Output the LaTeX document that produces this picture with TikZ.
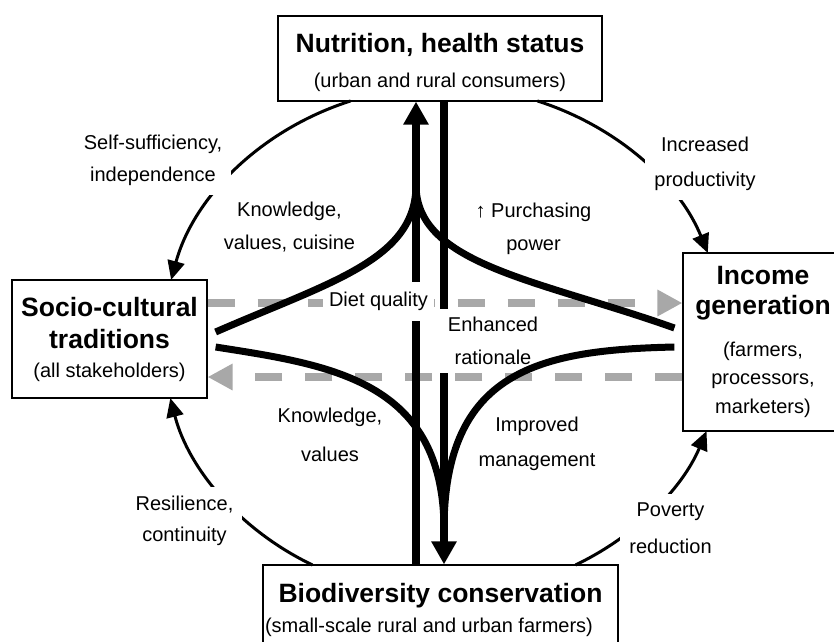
\documentclass[tikz,border=0pt]{standalone}
\usepackage{fontspec}
\setmainfont{Liberation Sans}
\usetikzlibrary{arrows.meta,calc}
\definecolor{dashgray}{RGB}{168,168,168}
\newcommand\titlefont{\fontsize{26.5}{32}\selectfont\bfseries}
\newcommand\boxfont{\fontsize{20}{29}\selectfont}
\newcommand\lblfont{\fontsize{20}{33}\selectfont}
\begin{document}
\begin{tikzpicture}[x=1pt,y=1pt,
  box/.style={draw, line width=1.2pt, fill=white, inner sep=0pt, align=center, font=\boxfont},
  lbl/.style={font=\lblfont, align=center, inner sep=0pt},
  arclbl/.style={lbl, fill=white, inner sep=9pt},
  cyc/.style={line width=3pt, -{Triangle[length=19pt,width=17pt]}},
  flow/.style={line width=8pt, -{Triangle[length=23pt,width=24pt]}},
  feed/.style={line width=7pt},
  gdash/.style={draw=dashgray, line width=8pt, dash pattern=on 27pt off 23pt, -{Triangle[length=25pt,width=25pt]}},
]
\useasboundingbox (0,0) rectangle (834,-641);
\clip (0,0) rectangle (834,-641);

% boxes
\node[box, minimum width=324pt, minimum height=85pt] (T) at (440,-58.5)
  {\rule{0pt}{27pt}{\titlefont Nutrition, health status}\\[6pt](urban and rural consumers)};
\node[box, minimum width=195pt, minimum height=118pt] (L) at (109.5,-339)
  {{\titlefont Socio-cultural}\\[3pt]{\titlefont traditions}\\(all stakeholders)};
\node[box, minimum width=160pt, minimum height=178pt] (R) at (763,-342)
  {{\titlefont Income}\\[1pt]{\titlefont generation}\\[13pt](farmers,\\[-1.5pt]processors,\\marketers)};
\node[box, minimum width=355pt, minimum height=81pt] (B) at (440.5,-605.5)
  {\rule{0pt}{28.3pt}{\titlefont Biodiversity conservation}\\[1pt](small-scale rural and urban farmers)\hspace*{23pt}};

% outer cycle
\coordinate (E) at (444,-340.5);
\draw[cyc] ($(E)+(109.4:281pt and 254pt)$) arc[start angle=109.4, end angle=166.2, x radius=281pt, y radius=254pt];
\draw[cyc] ($(E)+(70.6:281pt and 254pt)$) arc[start angle=70.6, end angle=20.15, x radius=281pt, y radius=254pt];
\draw[cyc] ($(E)+(242.1:281pt and 254pt)$) arc[start angle=242.1, end angle=193.1, x radius=281pt, y radius=254pt];
\draw[cyc] ($(E)+(-62.1:281pt and 254pt)$) arc[start angle=-62.1, end angle=-20.9, x radius=281pt, y radius=254pt];

\node[arclbl] (l1) at (153,-160.8) {Self-sufficiency,\\[-1pt]independence};
\node[arclbl] (l2) at (705,-164.3) {Increased\\[2pt]productivity};
\node[arclbl] (l3) at (184.5,-521.3) {Resilience,\\[-2pt]continuity};
\node[arclbl] (l4) at (670.5,-528.2) {Poverty\\[4pt]reduction};

% grey dashed arrows
\draw[gdash] ([yshift=36pt]L.east) -- ([yshift=39pt]R.west);
\draw[gdash] ([yshift=-35pt]R.west) -- ([yshift=-38pt]L.east);

% central vertical arrows
\draw[flow] ([xshift=-24.5pt]B.north) -- ([xshift=-24pt]T.south);
\draw[flow] ([xshift=4pt]T.south) -- ([xshift=3.5pt]B.north);

\node[lbl, fill=white, inner xsep=6pt, inner ysep=10pt] (dq) at (378.5,-301.8) {Diet quality};
\node[lbl, fill=white, inner xsep=10pt, inner ysep=8pt] (er) at (493,-340.7) {Enhanced\\rationale};

% converging curves
\coordinate (mu) at (416,-185);
\coordinate (md) at (444,-530);
\draw[feed] ([shift={(8pt,7pt)}]L.east) .. controls (330,-282) and (416,-260) .. (mu);
\draw[feed] ([shift={(-8pt,14pt)}]R.west) .. controls (540,-280) and (416,-265) .. (mu);
\draw[feed] ([shift={(8pt,-8pt)}]L.east) .. controls (330,-365) and (444,-380) .. (md);
\draw[feed] ([shift={(-8pt,-5pt)}]R.west) .. controls (540,-350) and (444,-370) .. (md);

% inner labels
\node[lbl] (kv1) at (289.5,-227.5) {Knowledge,\\values, cuisine};
\node[lbl] (pp) at (533.5,-228.8) {↑ Purchasing\\power};
\node[lbl] (kv2) at (330,-435.2) {Knowledge,\\[6pt]values};
\node[lbl] (im) at (537,-444.3) {Improved\\[2pt]management};
\end{tikzpicture}
\end{document}
